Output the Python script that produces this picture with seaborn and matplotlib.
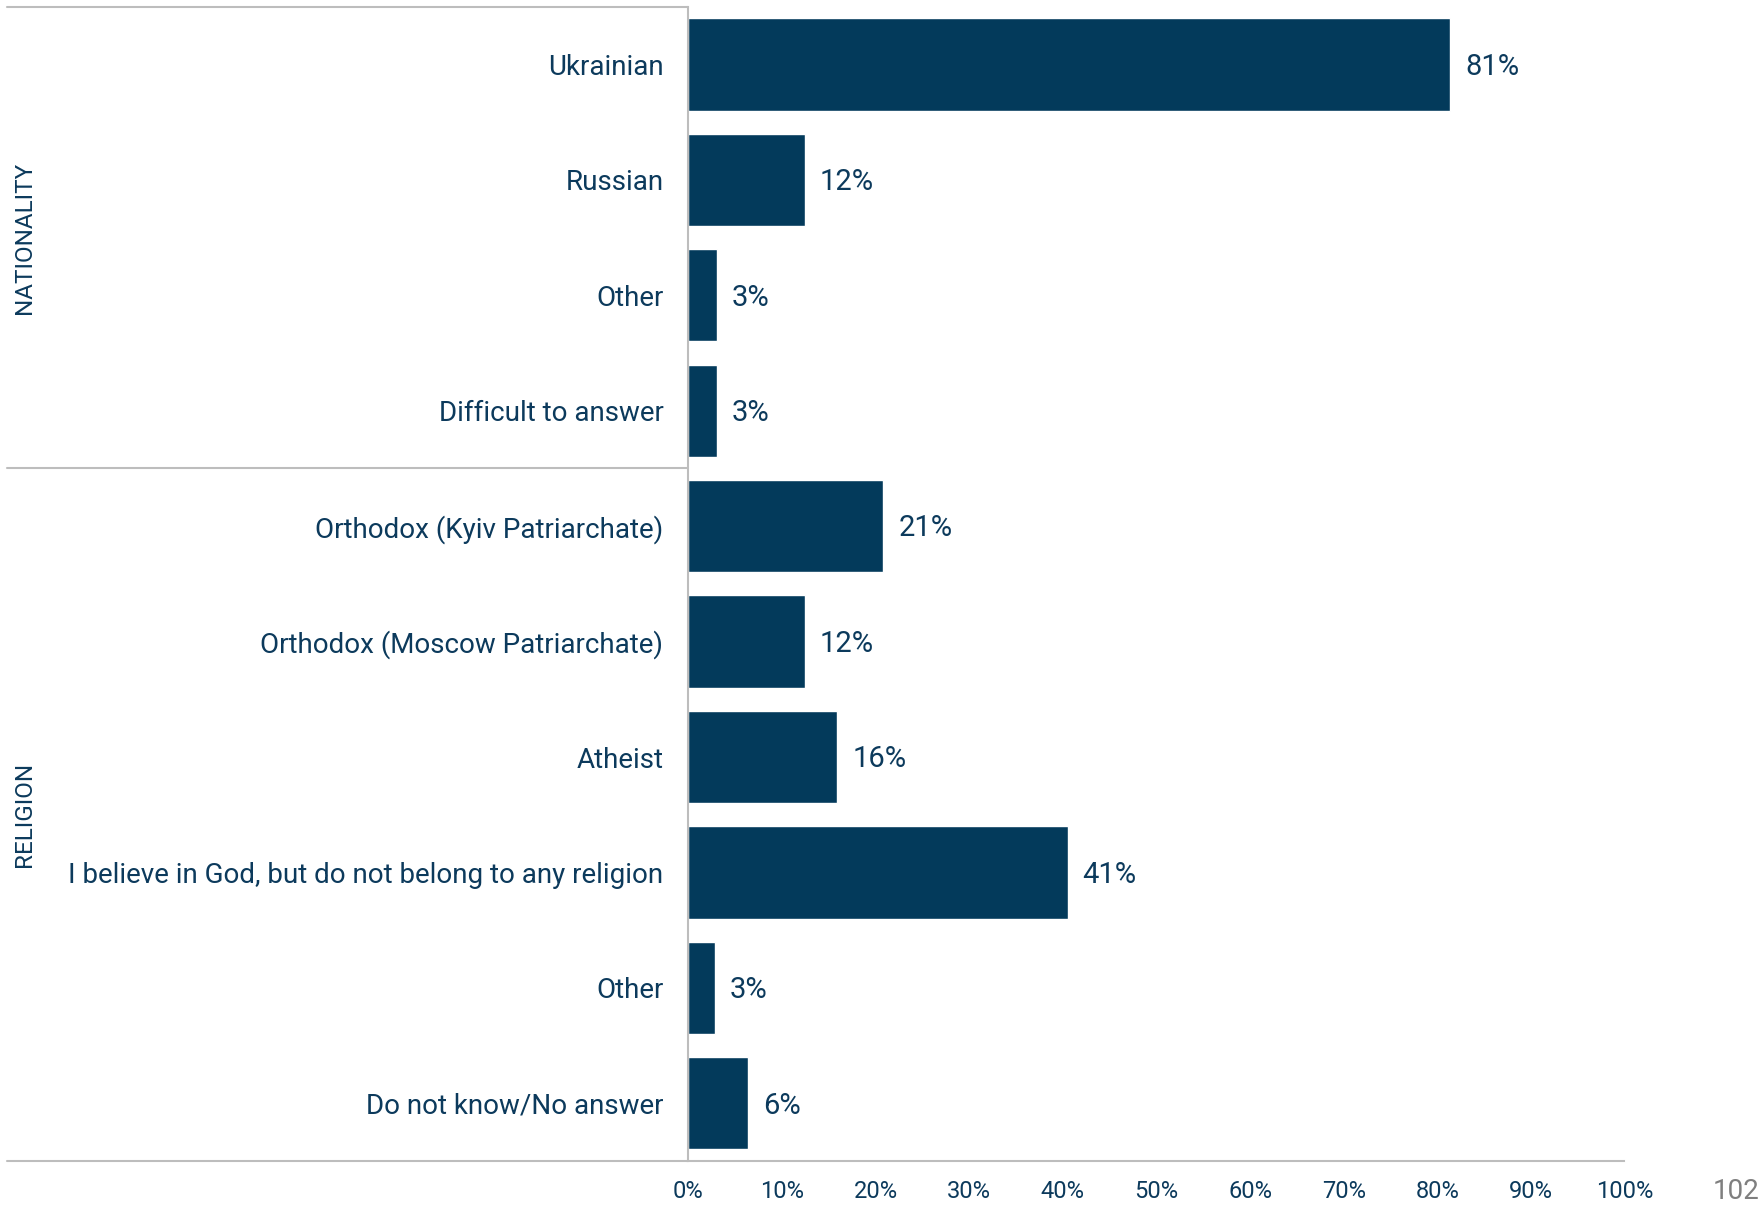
import numpy as np
import pandas as pd
import matplotlib
matplotlib.use('Agg')
import matplotlib.pyplot as plt
import matplotlib.transforms as mtransforms
import seaborn as sns

# Data
categories = ['Ukrainian', 'Russian', 'Other', 'Difficult to answer',
              'Orthodox (Kyiv Patriarchate)', 'Orthodox (Moscow Patriarchate)',
              'Atheist', 'I believe in God, but do not belong to any religion',
              'Other', 'Do not know/No answer']
values = [81.4, 12.4, 3.0, 3.0, 20.8, 12.4, 15.9, 40.5, 2.8, 6.4]
value_labels = ['81%', '12%', '3%', '3%', '21%', '12%', '16%', '41%', '3%', '6%']
groups = ['NATIONALITY', 'RELIGION']
group_sizes = [4, 6]
x_ticks = [0, 10, 20, 30, 40, 50, 60, 70, 80, 90, 100]
x_tick_labels = [f'{t}%' for t in x_ticks]
page_number = '102'

bar_color = '#033A5B'
text_color = '#0C3A5C'
line_color = '#BDBDBD'

sns.set_style('white')
plt.rcParams['font.family'] = ['Roboto', 'DejaVu Sans']

df = pd.DataFrame({'pos': range(len(categories)), 'value': values})

fig = plt.figure(figsize=(17.64, 12.09), dpi=100)
ax = fig.add_axes([0.3903, 0.0397, 0.5306, 0.9547])

sns.barplot(data=df, x='value', y='pos', orient='h', color=bar_color,
            width=0.8, saturation=1, ax=ax)

ax.set_xlim(0, 100)
ax.set_ylim(len(categories) - 0.5, -0.5)
ax.set_xlabel('')
ax.set_ylabel('')

ax.set_yticks(range(len(categories)))
ax.set_yticklabels(categories, fontsize=20, color=text_color)
ax.tick_params(axis='y', length=0, pad=18)

ax.set_xticks(x_ticks)
ax.set_xticklabels(x_tick_labels, fontsize=17, color=text_color)
ax.tick_params(axis='x', length=8, width=1.2, color=line_color, pad=6, direction='out')

for side in ['top', 'right']:
    ax.spines[side].set_visible(False)
for side in ['left', 'bottom']:
    ax.spines[side].set_color(line_color)
    ax.spines[side].set_linewidth(1.5)

# value labels next to each bar
for i, (v, lab) in enumerate(zip(values, value_labels)):
    ax.text(v + 1.6, i + 0.02, lab, va='center', ha='left', fontsize=21, color=text_color)

# group frame lines and rotated group labels
trans = mtransforms.blended_transform_factory(ax.transAxes, ax.transData)
x_left = -0.728
bounds = np.cumsum([0] + group_sizes) - 0.5
for b in bounds:
    ax.plot([x_left, 0], [b, b], color=line_color, lw=1.5, transform=trans, clip_on=False)
for g, lo, hi in zip(groups, bounds[:-1], bounds[1:]):
    ax.text(-0.709, (lo + hi) / 2, g, rotation=90, ha='center', va='center',
            fontsize=17.5, color=text_color, transform=trans)

fig.text(0.984, 0.0142, page_number, ha='center', va='center', fontsize=20, color='#7F7F7F')

fig.savefig('out.png', dpi=100)
